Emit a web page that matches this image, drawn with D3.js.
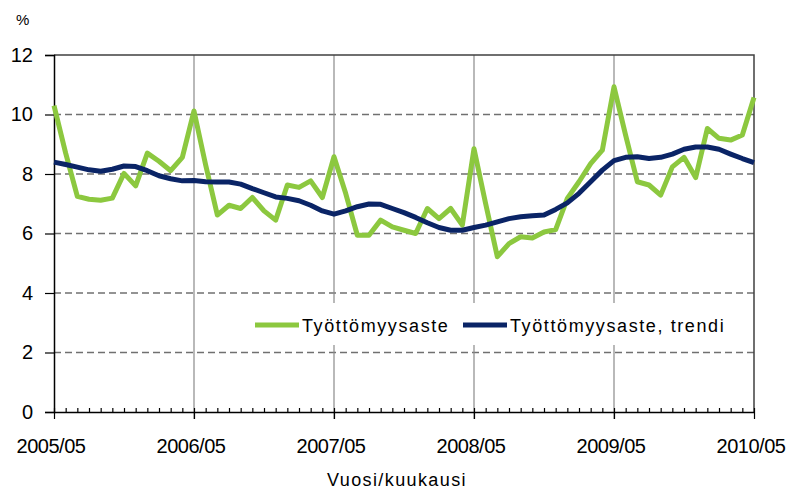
<!DOCTYPE html>
<html>
<head>
<meta charset="utf-8">
<script src="https://cdn.jsdelivr.net/npm/d3@7"></script>
<style>
  body { margin: 0; background: #fff; }
  text { font-family: "Liberation Sans", Arial, sans-serif; fill: #000; }
</style>
</head>
<body>
<div class="chart"></div>
<script>
const WIDTH = 792;
const HEIGHT = 493;
const MARGIN = { top: 55, right: 38, bottom: 81, left: 54 };

// monthly data 2005/05 .. 2010/05
const rate = [
  10.3, 8.7, 7.25, 7.15, 7.12, 7.19, 8.02, 7.6, 8.7, 8.43, 8.11, 8.56,
  10.12, 8.3, 6.62, 6.95, 6.84, 7.21, 6.76, 6.45, 7.63, 7.55, 7.77, 7.21,
  8.58, 7.35, 5.94, 5.94, 6.45, 6.22, 6.11, 6.0, 6.84, 6.5, 6.84, 6.28,
  8.85, 7.0, 5.22, 5.66, 5.89, 5.85, 6.05, 6.13, 7.18, 7.74, 8.35, 8.8,
  10.93, 9.3, 7.74, 7.63, 7.29, 8.24, 8.56, 7.88, 9.53, 9.2, 9.14, 9.31,
  10.57
];
const trend = [
  8.4, 8.32, 8.23, 8.14, 8.09, 8.16, 8.27, 8.25, 8.11, 7.94, 7.84, 7.77,
  7.78, 7.74, 7.73, 7.73, 7.66, 7.51, 7.37, 7.23, 7.18, 7.1, 6.95, 6.76,
  6.65, 6.76, 6.9, 6.99, 6.98, 6.84, 6.7, 6.54, 6.36, 6.2, 6.11, 6.11,
  6.2, 6.28, 6.39, 6.5, 6.56, 6.6, 6.62, 6.81, 7.03, 7.35, 7.74, 8.13,
  8.45, 8.56, 8.58, 8.52, 8.56, 8.67, 8.83, 8.91, 8.91, 8.83, 8.67, 8.52,
  8.38
];
const yearLabels = ['2005/05', '2006/05', '2007/05', '2008/05', '2009/05', '2010/05'];
const yTicks = [0, 2, 4, 6, 8, 10, 12];
const seriesNames = ['Työttömyysaste', 'Työttömyysaste, trendi'];
const colors = ['#8cc83f', '#0a2466'];

const svg = d3.select('.chart')
  .append('svg')
  .attr('width', WIDTH)
  .attr('height', HEIGHT);

const x = d3.scaleLinear()
  .domain([0, rate.length - 1])
  .range([MARGIN.left, WIDTH - MARGIN.right]);

const y = d3.scaleLinear()
  .domain([0, 12])
  .range([HEIGHT - MARGIN.bottom, MARGIN.top]);

const bottom = HEIGHT - MARGIN.bottom;

// horizontal dashed grid
svg.append('g')
  .selectAll('line')
  .data(yTicks.filter(d => d > 0 && d < 12))
  .enter()
  .append('line')
  .attr('x1', MARGIN.left)
  .attr('x2', WIDTH - MARGIN.right)
  .attr('y1', d => y(d))
  .attr('y2', d => y(d))
  .attr('stroke', '#707070')
  .attr('stroke-width', 1.5)
  .attr('stroke-dasharray', '7,4');

// vertical year lines
const yearIdx = yearLabels.map((d, i) => i * 12);
svg.append('g')
  .selectAll('line')
  .data(yearIdx.slice(1, -1))
  .enter()
  .append('line')
  .attr('x1', d => x(d))
  .attr('x2', d => x(d))
  .attr('y1', MARGIN.top)
  .attr('y2', bottom + 7)
  .attr('stroke', '#8a8a8a')
  .attr('stroke-width', 1.2);

// frame top + right
svg.append('path')
  .attr('d', `M${MARGIN.left},${MARGIN.top}H${WIDTH - MARGIN.right}V${bottom}`)
  .attr('fill', 'none')
  .attr('stroke', '#404040')
  .attr('stroke-width', 1.5);

// x axis with monthly minor ticks
const xAxis = d3.axisBottom(x)
  .tickValues(d3.range(0, rate.length))
  .tickSize(0)
  .tickFormat('');
const gx = svg.append('g')
  .attr('transform', `translate(0,${bottom})`)
  .call(xAxis);
gx.select('.domain').attr('stroke', '#000').attr('stroke-width', 1.5);
gx.selectAll('.tick line')
  .attr('y2', d => (d % 12 === 0 ? 7 : -4))
  .attr('y1', d => (d % 12 === 0 ? -4 : 0))
  .attr('stroke', '#000')
  .attr('stroke-width', 1.2);

svg.append('g')
  .selectAll('text')
  .data(yearLabels)
  .enter()
  .append('text')
  .attr('x', (d, i) => x(i * 12) - 3)
  .attr('y', bottom + 41)
  .attr('text-anchor', 'middle')
  .style('font-size', '20px')
  .style('letter-spacing', '-0.5px')
  .text(d => d);

// y axis
const yAxis = d3.axisLeft(y)
  .tickValues(yTicks)
  .tickSize(9)
  .tickPadding(12);
const gy = svg.append('g')
  .attr('transform', `translate(${MARGIN.left},0)`)
  .call(yAxis);
gy.select('.domain').attr('stroke', '#000').attr('stroke-width', 1.5);
gy.selectAll('.tick line').attr('stroke', '#000').attr('stroke-width', 1.2);
gy.selectAll('.tick text')
  .attr('font-family', null)
  .attr('font-size', null)
  .style('font-size', '20px')
  .attr('fill', '#000');

svg.append('text')
  .attr('x', 16)
  .attr('y', 25)
  .style('font-size', '15px')
  .text('%');

svg.append('text')
  .attr('x', 397)
  .attr('y', 486)
  .attr('text-anchor', 'middle')
  .style('font-size', '18px')
  .style('letter-spacing', '1.4px')
  .text('Vuosi/kuukausi');

// legend background
svg.append('rect')
  .attr('x', 250)
  .attr('y', 303)
  .attr('width', 485)
  .attr('height', 42)
  .attr('fill', '#fff');

// lines
const line = d3.line()
  .x((d, i) => x(i))
  .y(d => y(d));

[rate, trend].forEach((s, k) => {
  svg.append('path')
    .datum(s)
    .attr('d', line)
    .attr('fill', 'none')
    .attr('stroke', colors[k])
    .attr('stroke-width', 5)
    .attr('stroke-linejoin', 'round');
});

// legend
const legendX = [255, 463];
const lg = svg.append('g');
seriesNames.forEach((name, k) => {
  lg.append('line')
    .attr('x1', legendX[k])
    .attr('x2', legendX[k] + 44)
    .attr('y1', 325)
    .attr('y2', 325)
    .attr('stroke', colors[k])
    .attr('stroke-width', 5);
  lg.append('text')
    .attr('x', legendX[k] + 47)
    .attr('y', 332)
    .style('font-size', '18px')
    .style('letter-spacing', '1.6px')
    .text(name);
});
</script>
</body>
</html>
